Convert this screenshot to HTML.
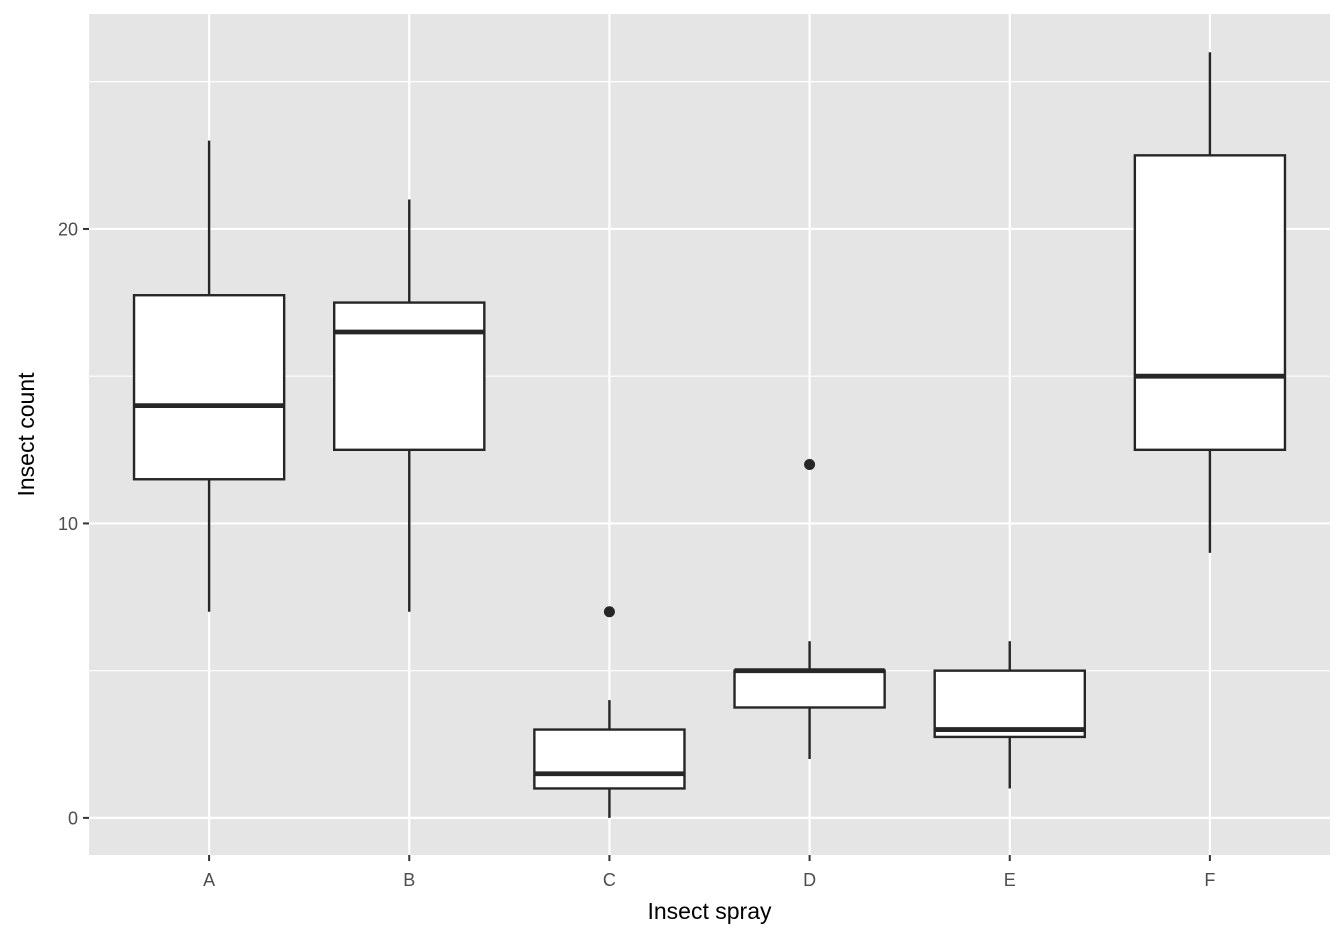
<!DOCTYPE html>
<html><head><meta charset="utf-8"><style>
body{margin:0;background:#fff}
svg{display:block;font-family:"Liberation Sans",Arial,sans-serif}
</style></head><body>
<svg id="chart" width="1344" height="940"></svg>
<script>
const categories=["A","B","C","D","E","F"];
const mins=[7,7,0,2,1,9];
const q1s=[11.5,12.5,1,3.75,2.75,12.5];
const medians=[14,16.5,1.5,5,3,15];
const q3s=[17.75,17.5,3,5,5,22.5];
const maxs=[23,21,4,6,6,26];
const outlierCat=["C","D"];
const outlierVal=[7,12];
const yTicks=[0,10,20];
const yMinor=[5,15,25];

const NS="http://www.w3.org/2000/svg";
const svg=document.getElementById("chart");
const P={l:89,r:1330,t:14,b:855};
const yMin=-1.26,yMax=27.3;
function y(v){return P.b-(v-yMin)/(yMax-yMin)*(P.b-P.t);}
const step=(P.r-P.l)/(categories.length+0.2);
function x(c){return P.l+step*(0.6+categories.indexOf(c));}
function el(tag,attrs,parent){const e=document.createElementNS(NS,tag);for(const k in attrs)e.setAttribute(k,attrs[k]);(parent||svg).appendChild(e);return e;}

const panel=el("rect",{x:P.l,y:P.t,width:P.r-P.l,height:P.b-P.t,fill:"#e5e5e5"});


yMinor.forEach(v=>{const g=el("line",{x1:P.l,x2:P.r,y1:y(v),y2:y(v),stroke:"#fff","stroke-width":1.1});

});
yTicks.forEach(v=>{const g=el("line",{x1:P.l,x2:P.r,y1:y(v),y2:y(v),stroke:"#fff","stroke-width":2.2});


const t=el("line",{x1:P.l-6,x2:P.l,y1:y(v),y2:y(v),stroke:"#333","stroke-width":2});


const l=el("text",{x:P.l-11,y:y(v)+6.5,"text-anchor":"end","font-size":18,fill:"#4d4d4d"});l.textContent=v;

});
categories.forEach(c=>{const g=el("line",{x1:x(c),x2:x(c),y1:P.t,y2:P.b,stroke:"#fff","stroke-width":2.2});


const t=el("line",{x1:x(c),x2:x(c),y1:P.b,y2:P.b+6,stroke:"#333","stroke-width":2});


const l=el("text",{x:x(c),y:P.b+31,"text-anchor":"middle","font-size":18,fill:"#4d4d4d"});l.textContent=c;

});
const bw=step*0.75;
categories.forEach((c,i)=>{
const g=el("g",{});


el("line",{x1:x(c),x2:x(c),y1:y(maxs[i]),y2:y(q3s[i]),stroke:"#262626","stroke-width":2.4},g);
el("line",{x1:x(c),x2:x(c),y1:y(q1s[i]),y2:y(mins[i]),stroke:"#262626","stroke-width":2.4},g);
el("rect",{x:x(c)-bw/2,y:y(q3s[i]),width:bw,height:y(q1s[i])-y(q3s[i]),fill:"#fff",stroke:"#262626","stroke-width":2.4},g);
el("line",{x1:x(c)-bw/2,x2:x(c)+bw/2,y1:y(medians[i]),y2:y(medians[i]),stroke:"#262626","stroke-width":4.8},g);
});
outlierCat.forEach((c,i)=>{const p=el("circle",{cx:x(c),cy:y(outlierVal[i]),r:5.5,fill:"#262626"});

});
const xt=el("text",{x:(P.l+P.r)/2,y:919,"text-anchor":"middle","font-size":23,fill:"#000"});xt.textContent="Insect spray";


const yt=el("text",{x:0,y:0,"text-anchor":"middle","font-size":23,fill:"#000",transform:"translate(34,"+((P.t+P.b)/2)+") rotate(-90)"});yt.textContent="Insect count";


</script>
</body></html>
